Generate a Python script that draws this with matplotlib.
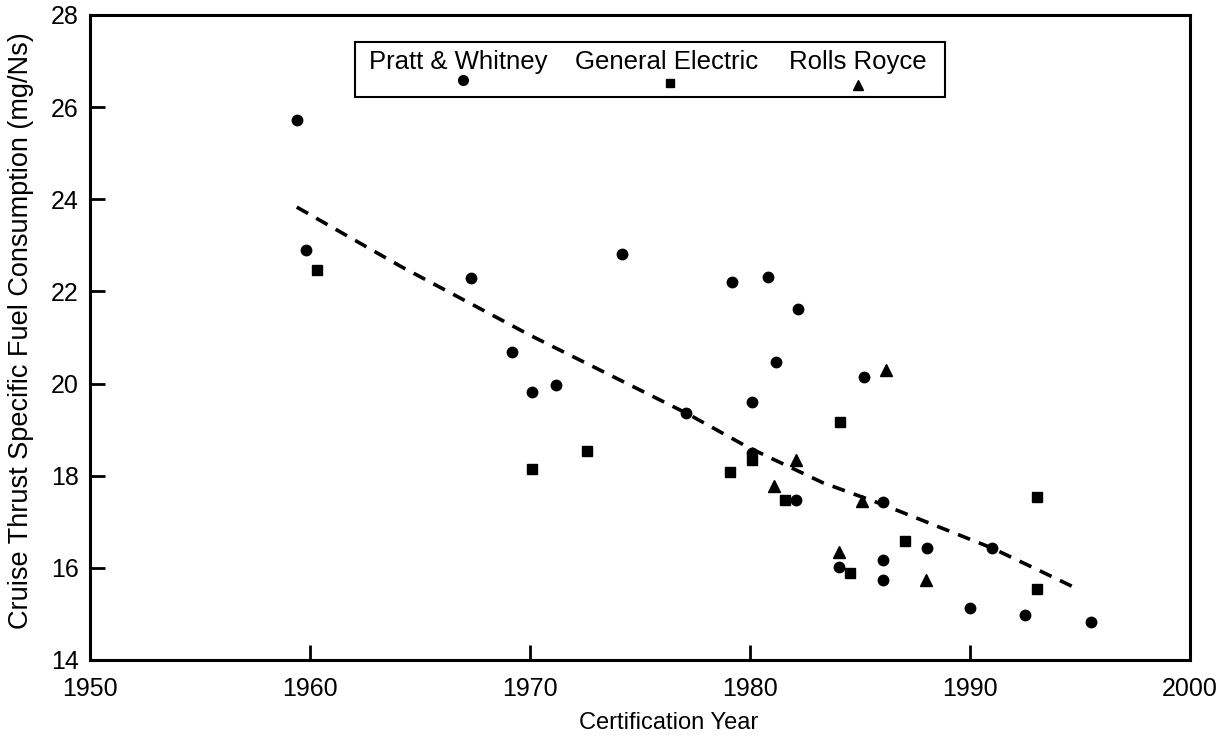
import matplotlib
matplotlib.use("Agg")
import matplotlib.pyplot as plt
from matplotlib.patches import Rectangle

plt.rcParams["font.family"] = ["Liberation Sans", "DejaVu Sans"]

# Pratt & Whitney (circles)
pw_year = [1959.4, 1959.8, 1967.3, 1969.2, 1970.1, 1971.2, 1974.2, 1977.1, 1979.2, 1980.1,
           1980.1, 1980.8, 1981.2, 1982.2, 1982.1, 1985.2, 1986.05, 1984.05, 1986.05, 1986.05,
           1988.05, 1991.0, 1990.0, 1992.5, 1995.5]
pw_sfc = [25.72, 22.90, 22.29, 20.69, 19.82, 19.97, 22.81, 19.36, 22.20, 19.60,
          18.50, 22.31, 20.47, 21.62, 17.47, 20.14, 17.43, 16.02, 16.17, 15.74,
          16.43, 16.43, 15.13, 14.98, 14.82]

# General Electric (squares)
ge_year = [1960.3, 1970.1, 1972.6, 1979.1, 1980.1, 1981.6, 1984.1, 1984.55, 1987.05, 1993.05, 1993.05]
ge_sfc = [22.47, 18.15, 18.54, 18.08, 18.35, 17.47, 19.17, 15.89, 16.58, 17.54, 15.54]

# Rolls Royce (triangles)
rr_year = [1981.1, 1982.1, 1985.1, 1984.05, 1986.2, 1988.0]
rr_sfc = [17.78, 18.34, 17.45, 16.34, 20.30, 15.74]

# trend curve
trend_year = [1959.4, 1964.1, 1970.0, 1977.1, 1979.9, 1983.3, 1986.0, 1991.0, 1993.2, 1994.9]
trend_sfc = [23.83, 22.55, 21.05, 19.36, 18.62, 17.85, 17.38, 16.43, 15.93, 15.54]

x_ticks = [1950, 1960, 1970, 1980, 1990, 2000]
y_ticks = [14, 16, 18, 20, 22, 24, 26, 28]

fig = plt.figure(figsize=(12.24, 7.38), dpi=100)
ax = fig.add_axes([0.0735, 0.1057, 0.8987, 0.874])

ax.plot(trend_year, trend_sfc, color="black", linewidth=2.6, dashes=(3.6, 2.6))
ax.plot(pw_year, pw_sfc, "o", color="black", markersize=7.5, linestyle="none")
ax.plot(ge_year, ge_sfc, "s", color="black", markersize=7, linestyle="none")
ax.plot(rr_year, rr_sfc, "^", color="black", markersize=8, linestyle="none")

ax.set_xlim(1950, 2000)
ax.set_ylim(14, 28)
ax.set_xticks(x_ticks)
ax.set_yticks(y_ticks)
ax.tick_params(direction="in", length=11, width=2, labelsize=18)
ax.tick_params(axis="x", pad=12)
ax.tick_params(axis="y", pad=8)
for s in ax.spines.values():
    s.set_linewidth(2.2)

ax.set_xlabel("Certification Year", fontsize=17)
ax.xaxis.set_label_coords(0.526, -0.080)
ax.set_ylabel("Cruise Thrust Specific Fuel Consumption (mg/Ns)", fontsize=19.5)
ax.yaxis.set_label_coords(-0.051, 0.51)

# hand-made legend box
ax.add_patch(Rectangle((0.241, 0.873), 0.536, 0.085, transform=ax.transAxes,
                       fill=False, edgecolor="black", linewidth=1.5))
ax.text(0.2536, 0.927, "Pratt & Whitney", transform=ax.transAxes, fontsize=18.5, va="center")
ax.text(0.441, 0.927, "General Electric", transform=ax.transAxes, fontsize=18.5, va="center")
ax.text(0.6355, 0.927, "Rolls Royce", transform=ax.transAxes, fontsize=18.5, va="center")
ax.plot([0.339], [0.899], "o", color="black", markersize=7, transform=ax.transAxes)
ax.plot([0.527], [0.895], "s", color="black", markersize=6, transform=ax.transAxes)
ax.plot([0.698], [0.891], "^", color="black", markersize=7, transform=ax.transAxes)

fig.savefig("out.png", dpi=100)
